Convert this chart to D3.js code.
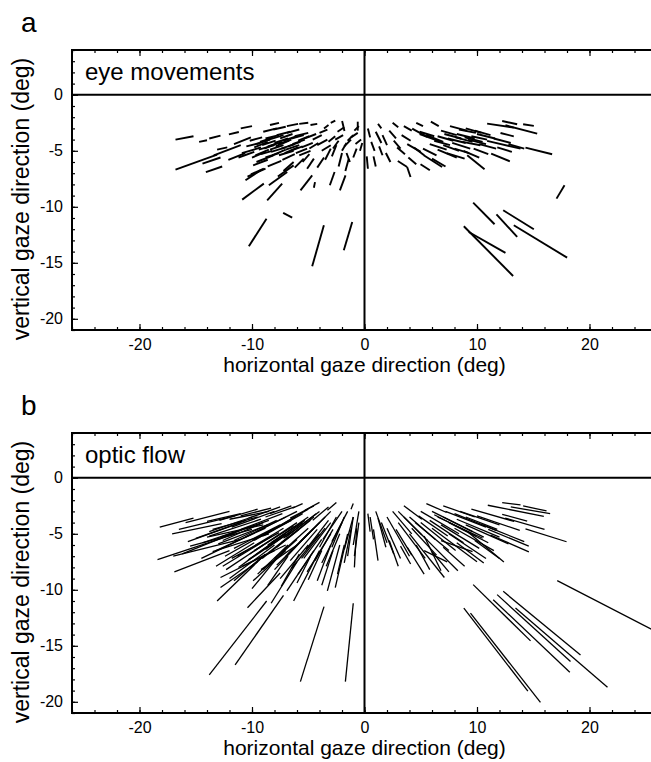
<!DOCTYPE html>
<html><head><meta charset="utf-8">
<script src="https://cdn.jsdelivr.net/npm/d3@7"></script>
<style>
body{margin:0;background:#fff}
svg{display:block}
text{font-family:"Liberation Sans",Arial,Helvetica,sans-serif;fill:#000}
</style>
</head><body>
<svg id="chart" width="651" height="762"></svg>
<script>
// ---- data (degrees) ----
const xTicks = [-20, -10, 0, 10, 20];
const yTicks = [0, -5, -10, -15, -20];
const xMinorTicks = [-26,-24,-22,-20,-18,-16,-14,-12,-10,-8,-6,-4,-2,0,2,4,6,8,10,12,14,16,18,20,22,24,26];
const yMinorTicks = [4,3,2,1,0,-1,-2,-3,-4,-5,-6,-7,-8,-9,-10,-11,-12,-13,-14,-15,-16,-17,-18,-19,-20,-21];
const xDomain = [-26, 26];
const yDomain = [-21, 4];
const panelLetters = ["a", "b"];
const panelTitles = ["eye movements", "optic flow"];
const xAxisTitle = "horizontal gaze direction (deg)";
const yAxisTitle = "vertical gaze direction (deg)";

// segments: [x1, y1, x2, y2]
const eyeSegments = [
[-16.8,-4.0,-15.2,-3.7],[-14.7,-4.2,-14.0,-4.06],[-13.8,-3.9,-12.8,-3.65],[-12.05,-3.53,-11.17,-3.32],
[-16.8,-6.68,-13.1,-5.34],[-14.4,-6.15,-12.8,-5.6],[-14.1,-6.9,-12.65,-6.4],[-13.4,-5.4,-11.0,-4.5],
[-13.1,-4.9,-12.2,-4.7],[-11.6,-4.4,-10.1,-3.8],[-10.9,-5.2,-9.2,-4.7],[-9.6,-4.4,-8.4,-4.0],
[-9.4,-4.9,-8.0,-4.5],[-9.2,-5.3,-8.2,-5.0],[-8.8,-3.9,-7.6,-3.6],[-8.6,-4.6,-7.3,-4.2],
[-8.3,-5.1,-7.0,-4.7],[-8.0,-4.3,-6.8,-3.9],[-7.8,-3.6,-6.6,-3.3],[-7.6,-5.4,-6.3,-5.0],
[-7.4,-4.8,-6.2,-4.4],[-7.2,-4.1,-6.0,-3.7],[-6.9,-3.4,-5.8,-3.1],[-6.6,-5.0,-5.5,-4.6],
[-6.4,-4.4,-5.3,-4.0],[-6.2,-3.7,-5.0,-3.4],[-5.8,-5.4,-4.8,-5.0],[-5.6,-4.7,-4.6,-4.3],
[-5.3,-3.9,-4.3,-3.5],[-9.0,-3.3,-7.8,-3.0],[-8.1,-3.1,-7.0,-2.85],[-10.2,-4.1,-9.1,-3.8],
[-10.0,-5.6,-8.8,-5.1],[-6.9,-2.8,-5.9,-2.6],[-4.8,-2.7,-4.2,-2.6],[-3.6,-3.0,-3.2,-2.7],
[-5.1,-6.6,-4.5,-5.7],[-4.2,-6.5,-3.6,-5.6],[-3.5,-5.8,-3.0,-4.8],[-2.9,-5.5,-2.5,-4.5],
[-2.3,-6.4,-2.0,-5.2],[-1.7,-6.8,-1.4,-5.7],[-1.3,-6.0,-1.6,-5.2],[-1.0,-5.6,-0.7,-4.8],
[-3.08,-8.08,-2.66,-6.89],[-2.19,-8.53,-1.69,-7.19],[-5.69,-8.53,-4.65,-7.19],[-4.5,-8.3,-4.4,-7.8],
[-1.99,-2.34,-1.78,-3.23],[-0.6,-2.4,-0.6,-3.2],[-4.2,-4.5,-3.3,-4.0],[-3.8,-5.0,-3.0,-4.5],
[-2.6,-4.0,-1.9,-3.6],[-1.8,-4.6,-1.2,-4.0],[-1.2,-3.8,-0.6,-3.4],[-0.8,-4.4,-0.3,-4.0],
[-2.4,-3.3,-1.8,-2.9],[-10.87,-9.36,-8.95,-7.93],[-10.58,-7.63,-9.24,-6.74],[-10.4,-7.3,-8.8,-6.6],
[-10.1,-7.1,-8.95,-6.6],[-8.65,-9.42,-7.32,-7.93],[-8.5,-8.08,-6.87,-6.89],[-7.7,-7.3,-6.3,-6.3],
[-9.6,-6.0,-8.1,-5.4],[-10.28,-13.53,-8.71,-11.06],[-7.23,-10.55,-6.43,-10.97],[-4.65,-15.31,-3.61,-11.65],
[-1.84,-13.88,-1.09,-11.35],
[-9.8,-4.7,-8.6,-4.2],[-9.3,-4.2,-8.1,-3.8],[-8.9,-4.8,-7.7,-4.3],[-8.5,-4.0,-7.2,-3.6],
[-8.2,-5.4,-7.0,-4.9],[-7.9,-4.6,-6.7,-4.1],[-7.5,-3.9,-6.4,-3.5],[-7.1,-5.2,-5.9,-4.7],
[-6.8,-4.6,-5.7,-4.2],[-6.5,-3.9,-5.4,-3.6],[-6.1,-5.2,-5.1,-4.8],[-5.9,-4.1,-4.9,-3.7],
[-9.7,-5.4,-8.5,-4.9],[-8.8,-5.6,-7.6,-5.2],[-7.3,-5.8,-6.2,-5.3],[-10.5,-4.6,-9.3,-4.3],
[-11.2,-5.6,-9.8,-5.1],[-12.1,-5.8,-10.6,-5.2],[-9.9,-6.3,-8.6,-5.8],[-8.6,-6.4,-7.4,-5.9],
[-7.2,-6.8,-6.3,-6.0],[-6.2,-6.5,-5.4,-5.7],[-5.5,-6.0,-4.9,-5.3],[-4.9,-4.8,-4.1,-4.3],
[-4.6,-4.0,-3.8,-3.6],[-4.0,-3.4,-3.3,-3.1],[-3.2,-4.2,-2.6,-3.7],[-2.8,-4.8,-2.3,-4.1],
[-2.0,-5.0,-1.6,-4.3],[-1.5,-4.1,-1.0,-3.6],[-0.9,-3.2,-0.5,-2.8],[-0.4,-5.0,-0.2,-4.3],
[-3.0,-2.5,-2.6,-2.3],[-5.8,-2.6,-5.0,-2.5],[-8.4,-2.7,-7.6,-2.5],[-11.0,-3.0,-10.0,-2.8],
[-9.1,-4.5,-7.9,-4.1],[-8.4,-4.9,-7.2,-4.5],[-7.7,-4.4,-6.5,-4.0],[-7.0,-4.9,-5.8,-4.5],
[17.07,-9.27,17.78,-8.08],[9.66,-9.63,11.56,-11.56],[12.33,-10.31,15.05,-12.01],[11.73,-10.67,13.57,-12.69],
[13.27,-11.65,18.01,-14.54],[8.83,-11.74,13.21,-16.18],[9.27,-12.25,12.53,-14.12],
[10.9,-2.57,13.27,-2.93],[12.24,-2.34,13.57,-2.63],[14.1,-2.63,15.05,-2.78],[12.53,-2.72,15.35,-3.47],
[12.09,-3.41,13.27,-3.71],[10.9,-4.12,13.87,-4.81],[14.31,-4.72,16.68,-5.31],[11.26,-5.25,12.92,-5.94],
[9.13,-5.40,10.67,-6.65],[5.27,-5.40,6.90,-6.44],[4.98,-6.20,5.81,-6.74],[2.96,-5.91,3.79,-6.44],
[3.79,-6.44,4.09,-7.34],[6.8,-3.2,8.2,-3.6],[7.4,-3.9,9.0,-4.3],[7.6,-2.8,9.1,-3.2],
[8.2,-3.5,9.8,-3.9],[8.7,-4.2,10.3,-4.5],[9.0,-3.0,10.4,-3.4],[9.5,-3.7,10.9,-4.0],
[6.2,-4.1,7.6,-4.5],[5.5,-3.6,7.0,-4.2],[8.0,-4.8,9.3,-5.2],[6.5,-4.9,8.2,-5.6],
[4.9,-3.3,6.2,-3.7],[4.24,-3.02,5.57,-3.76],[4.9,-3.5,6.8,-4.2],[3.8,-4.4,5.0,-5.1],
[2.9,-4.7,3.6,-5.3],[2.2,-3.2,2.8,-3.9],[1.6,-3.6,2.0,-4.5],[1.0,-3.3,1.5,-4.3],
[0.6,-4.2,0.9,-5.0],[0.3,-3.0,0.5,-3.8],[2.5,-2.5,3.0,-2.9],[1.2,-2.6,1.5,-3.0],
[5.9,-2.4,6.6,-2.8],[3.3,-3.6,4.1,-4.1],[2.6,-4.1,3.2,-4.8],[7.0,-4.5,8.4,-5.0],
[0.2,-5.5,0.3,-6.6],
[7.1,-3.5,8.6,-3.9],[7.8,-4.3,9.4,-4.8],[8.4,-3.1,9.9,-3.4],[8.9,-3.8,10.5,-4.2],
[9.8,-3.2,11.2,-3.6],[10.2,-4.4,11.7,-4.8],[6.5,-3.7,7.9,-4.1],[5.8,-4.4,7.3,-4.9],
[7.3,-5.2,8.9,-5.7],[8.8,-5.0,10.2,-5.6],[5.2,-4.8,6.4,-5.4],[6.0,-5.7,7.2,-6.4],
[3.9,-5.6,4.6,-6.2],[4.4,-4.7,5.3,-5.4],[1.9,-5.2,2.3,-6.0],[1.3,-4.6,1.6,-5.4],
[0.8,-5.5,1.0,-6.4],[3.5,-2.8,4.2,-3.2],[4.6,-2.5,5.2,-2.8],[10.0,-3.5,11.6,-3.9],
[11.5,-3.9,13.0,-4.3],[12.8,-4.4,14.2,-4.8],[11.8,-4.7,13.1,-5.1],[9.7,-4.8,11.0,-5.3],
[8.1,-3.8,9.6,-4.2],[9.2,-4.0,10.8,-4.4]
];

const flowSegments = [
[-15.2,-3.6,-18.2,-4.4],[-12.7,-4.1,-17.1,-5.0],[-11.0,-3.2,-14.0,-3.9],[-8.5,-3.0,-12.0,-3.7],
[-11.5,-5.0,-18.4,-7.3],[-11.0,-5.5,-17.0,-7.0],[-12.0,-6.5,-16.9,-8.4],[-10.0,-4.6,-15.5,-6.1],
[-9.0,-4.2,-14.0,-5.3],[-8.5,-5.0,-13.5,-6.6],[-9.0,-7.0,-13.1,-11.0],[-9.5,-7.5,-12.8,-9.8],
[-8.7,-11.0,-13.8,-17.6],[-7.2,-10.5,-11.5,-16.7],[-7.5,-8.5,-10.4,-11.6],[-3.6,-11.5,-5.7,-18.2],
[-1.0,-11.2,-1.7,-18.2],[-4.5,-6.5,-6.9,-10.1],[-4.0,-6.5,-6.3,-11.0],[-3.0,-6.0,-4.2,-9.2],
[-2.2,-6.0,-3.3,-10.1],[-1.5,-5.0,-2.6,-9.8],[-0.7,-4.5,-0.9,-8.0],[-1.0,-3.5,-1.5,-7.0],
[-12,-3.0,-15.9,-4.0],[-11,-4.0,-15.7,-5.7],[-10,-3.5,-13.8,-4.8],[-10,-5.0,-14.5,-7.2],
[-9,-4.0,-12.6,-5.6],[-9,-6.0,-12.3,-8.2],[-8,-3.0,-11.8,-4.4],[-8,-4.5,-12.4,-7.0],
[-8,-6.0,-12,-9],[-7,-3.5,-10.6,-5.3],[-7,-5.0,-10.3,-7.3],[-7,-6.5,-9.9,-9.2],
[-6,-3.0,-9.6,-4.8],[-6,-4.0,-10.2,-6.8],[-6,-5.5,-9.0,-8.2],[-5,-3.5,-8.3,-5.8],
[-5,-4.5,-8.0,-7.2],[-5,-2.8,-7.6,-4.3],[-4,-3.0,-7.2,-5.4],[-4,-4.0,-6.8,-6.8],
[-4,-5.0,-6.5,-8.1],[-3,-3.0,-5.1,-5.1],[-3,-4.0,-5.4,-7.2],[-3,-5.0,-5.1,-8.4],
[-2,-3.0,-3.7,-5.5],[-2,-4.0,-3.8,-7.6],[-1.5,-3.0,-2.9,-5.7],[-1,-3.5,-1.8,-6.4],
[-0.5,-3.0,-1.0,-6.0],[-0.5,-4.0,-0.9,-7.0],[-9.5,-2.8,-12.9,-3.8],[-7.5,-2.6,-10.3,-3.6],
[-6.5,-2.5,-8.4,-3.2],[-5.5,-2.3,-6.4,-2.7],[-4,-2.2,-5.3,-2.9],[-2.5,-2.2,-3.3,-2.9],
[-1,-2.3,-1.2,-2.8],[-9.5,-3.5,-13.5,-4.6],[-8.5,-3.8,-12.8,-5.3],[-7.5,-4.2,-11.6,-6.3],
[-6.5,-3.8,-10.0,-5.6],[-6.5,-4.8,-10.4,-7.4],[-5.5,-3.2,-9.0,-5.2],[-5.5,-4.0,-8.8,-6.4],
[-4.5,-3.5,-7.4,-5.8],[-4.5,-4.5,-7.0,-7.0],[-3.5,-3.5,-5.8,-5.8],[-3.5,-4.5,-5.6,-7.2],
[-2.5,-3.5,-4.0,-6.2],[-7.8,-5.5,-11.2,-8.0],[-6.8,-6.0,-9.5,-8.6],[-8.0,-6.5,-12.8,-8.9],
[-7.0,-6.0,-10.9,-7.9],[-6.0,-6.0,-9.2,-8.2],[-5.0,-6.0,-7.5,-9.0],[-6.0,-7.5,-8.3,-11.2],
[-9.2,-3.7,-13.8,-5.2],[-8.8,-4.5,-13.2,-6.5],[-8.2,-5.2,-12.6,-7.9],[-7.8,-3.8,-11.6,-5.6],
[-7.2,-4.5,-11.3,-7.0],[-6.8,-5.3,-10.2,-8.0],[-6.2,-3.5,-9.8,-5.6],[-5.8,-4.6,-9.1,-7.2],
[-5.2,-5.2,-8.0,-8.2],[-4.8,-3.8,-7.8,-6.2],[-4.2,-4.6,-6.6,-7.4],[-3.8,-5.5,-5.9,-8.6],
[-3.2,-3.8,-5.2,-6.4],[-2.8,-4.6,-4.4,-7.4],[-2.2,-5.0,-3.4,-7.9],[-1.8,-3.5,-2.9,-6.2],
[-1.2,-4.6,-1.8,-7.6],[-10.5,-3.8,-15.0,-5.4],[-10.8,-4.6,-16.2,-6.8],[-11.5,-3.4,-16.5,-4.6],
[-9.8,-5.8,-13.2,-7.9],[-8.8,-6.8,-11.6,-9.2],[-7.8,-7.2,-10.0,-9.9],[-6.8,-7.0,-8.6,-9.6],
[-5.8,-6.8,-7.4,-9.7],[-4.8,-7.0,-6.0,-9.4],[-3.8,-6.5,-5.0,-9.1],[-2.8,-6.5,-3.8,-9.6],
[-1.8,-6.0,-2.4,-8.6],[-8.3,-2.7,-11.0,-3.4],[-6.2,-2.6,-8.8,-3.5],[-4.5,-2.5,-6.6,-3.6],
[-3.2,-2.6,-4.6,-3.8],
[-9.7,-4.2,-14.4,-5.8],[-8.6,-4.2,-13.0,-5.9],[-7.6,-4.9,-11.8,-7.2],[-7.3,-3.2,-11.0,-4.6],
[-6.3,-4.3,-9.8,-6.5],[-5.3,-3.8,-8.6,-6.0],[-5.0,-5.0,-7.8,-7.8],[-4.3,-3.2,-7.0,-5.3],
[10.96,-2.45,15.94,-3.44],[12.24,-2.21,13.87,-2.42],[14.10,-2.51,16.18,-2.96],[12.24,-3.26,14.46,-3.86],
[14.31,-4.55,17.96,-5.71],[11.20,-5.11,14.61,-6.61],[9.27,-4.90,12.39,-7.51],[9.66,-9.54,14.76,-14.56],
[11.79,-10.43,18.31,-16.41],[11.44,-10.88,18.25,-17.37],[12.33,-10.14,19.20,-15.82],[13.42,-11.63,21.6,-18.7],
[8.83,-11.63,14.52,-19.05],[9.42,-12.08,15.64,-20.06],[17.13,-9.18,27.0,-14.3],
[8,-3.2,11.7,-4.7],[7,-3.5,10.6,-5.3],[6,-3.0,9.6,-4.8],[9,-3.5,11.8,-4.6],
[8,-4.5,11.5,-6.5],[6,-4.5,10,-7.5],[5,-3.0,8.4,-5.0],[5,-4.0,8.1,-6.5],
[4,-3.5,6.3,-5.5],[4,-5.0,7.1,-8.9],[3,-4.0,5.4,-7.2],[3,-3.0,5.1,-5.1],
[2,-3.5,4.0,-7.0],[2,-4.5,3.2,-7.2],[1,-3.0,2.0,-5.8],[1.5,-4.0,2.6,-6.8],
[0.5,-3.5,0.8,-5.5],[7,-2.5,9.8,-3.5],[5.5,-2.3,7.3,-3.1],[3.5,-2.5,5.1,-3.7],
[9.5,-2.8,13.3,-3.9],[10.5,-4.2,14.2,-5.7],[7.5,-5.0,10.8,-7.2],[5.5,-5.5,8.3,-8.3],
[6.8,-5.6,9.6,-6.6],[3.8,-6.2,5.3,-8.6],[5.3,-5.2,6.8,-8.3],[3.2,-6.1,4.1,-7.7],
[5.3,-6.5,7.35,-7.5],[6.5,-3.5,10.5,-5.4],[7.5,-4.0,11.0,-5.8],[8.5,-3.0,12.0,-4.2],
[4.5,-4.0,7.5,-6.5],
[6.2,-3.3,9.9,-5.2],[7.2,-3.0,10.8,-4.4],[8.2,-3.7,12.0,-5.3],[9.0,-4.2,12.8,-5.9],
[6.8,-4.2,10.2,-6.3],[5.8,-3.8,8.8,-5.8],[4.8,-3.4,7.4,-5.2],[4.2,-4.5,6.4,-6.9],
[3.5,-3.5,5.6,-5.6],[2.5,-3.0,4.2,-5.0],[2.8,-4.6,4.2,-6.9],[1.2,-3.6,1.9,-6.2],
[0.8,-4.6,1.2,-7.4],[10.0,-3.4,13.8,-4.7],[11.0,-4.6,14.6,-6.1],[12.5,-3.6,16.0,-4.6],
[13.0,-2.6,16.5,-3.2],[9.8,-5.6,12.0,-7.2],[8.2,-5.8,10.6,-7.6],[7.0,-6.2,8.9,-7.9],
[6.0,-6.6,7.5,-8.4],[4.6,-6.0,5.8,-8.2],[2.2,-5.6,3.0,-7.9],[0.3,-3.2,0.5,-4.8]
];
const panelSegments = [eyeSegments, flowSegments];

// ---- layout ----
const svg = d3.select("#chart");
const plotLeft = 72, plotRight = 657, plotH = 280;
const panelTops = [50, 433];
const strokeW = [1.9, 1.3];

const x = d3.scaleLinear().domain(xDomain).range([plotLeft, plotRight]);
const y = d3.scaleLinear().domain(yDomain).range([plotH, 0]);

svg.append("defs").append("clipPath").attr("id", "plotclip")
  .append("rect").attr("x", plotLeft).attr("y", 0).attr("width", plotRight - plotLeft).attr("height", plotH);

panelTops.forEach((top, i) => {
  const g = svg.append("g").attr("transform", `translate(0,${top})`);

  g.append("g").attr("clip-path", "url(#plotclip)")
    .selectAll("line").data(panelSegments[i]).join("line")
    .attr("x1", d => x(d[0])).attr("y1", d => y(d[1]))
    .attr("x2", d => x(d[2])).attr("y2", d => y(d[3]))
    .attr("stroke", "#000").attr("stroke-width", strokeW[i]);

  const styleAxis = sel => { sel.select(".domain").remove(); sel.selectAll("line").attr("stroke", "#000").attr("stroke-width", 1.2); };
  g.append("g").attr("transform", `translate(0,${plotH})`)
    .call(d3.axisBottom(x).tickValues(xMinorTicks).tickSize(-3).tickSizeOuter(0).tickFormat(""))
    .call(styleAxis);
  g.append("g").attr("transform", `translate(0,${plotH})`)
    .call(d3.axisBottom(x).tickValues(xTicks).tickSize(-6).tickSizeOuter(0).tickPadding(9).tickFormat(d => String(d)))
    .call(styleAxis)
    .selectAll("text").attr("font-size", 16).attr("fill", "#000")
    .attr("font-family", '"Liberation Sans",Arial,sans-serif');
  g.append("g")
    .call(d3.axisTop(x).tickValues(xMinorTicks).tickSize(-3).tickSizeOuter(0).tickFormat(""))
    .call(styleAxis);
  g.append("g")
    .call(d3.axisTop(x).tickValues(xTicks).tickSize(-6).tickSizeOuter(0).tickFormat(""))
    .call(styleAxis);
  g.append("g").attr("transform", `translate(${plotLeft},0)`)
    .call(d3.axisLeft(y).tickValues(yMinorTicks).tickSize(-3).tickSizeOuter(0).tickFormat(""))
    .call(styleAxis);
  g.append("g").attr("transform", `translate(${plotLeft},0)`)
    .call(d3.axisLeft(y).tickValues(yTicks).tickSize(-6).tickSizeOuter(0).tickPadding(9).tickFormat(d => String(d)))
    .call(styleAxis)
    .selectAll("text").attr("font-size", 16).attr("fill", "#000")
    .attr("font-family", '"Liberation Sans",Arial,sans-serif');

  g.append("line").attr("x1", plotLeft).attr("x2", plotRight).attr("y1", y(0)).attr("y2", y(0))
    .attr("stroke", "#000").attr("stroke-width", 2);
  g.append("line").attr("x1", x(0)).attr("x2", x(0)).attr("y1", 0).attr("y2", plotH)
    .attr("stroke", "#000").attr("stroke-width", 2);

  g.append("rect").attr("x", plotLeft).attr("y", 0).attr("width", plotRight - plotLeft).attr("height", plotH)
    .attr("fill", "none").attr("stroke", "#000").attr("stroke-width", 2);

  g.append("text").attr("x", 21).attr("y", -18).attr("font-size", 28).text(panelLetters[i]);
  g.append("text").attr("x", 85).attr("y", 30).attr("font-size", 24).text(panelTitles[i]);
  g.append("text").attr("x", x(0)).attr("y", plotH + 42).attr("text-anchor", "middle")
    .attr("font-size", 21).text(xAxisTitle);
  g.append("text").attr("transform", `translate(28.5,${149}) rotate(-90)`).attr("text-anchor", "middle")
    .attr("font-size", 23).text(yAxisTitle);
});
</script>
</body></html>
